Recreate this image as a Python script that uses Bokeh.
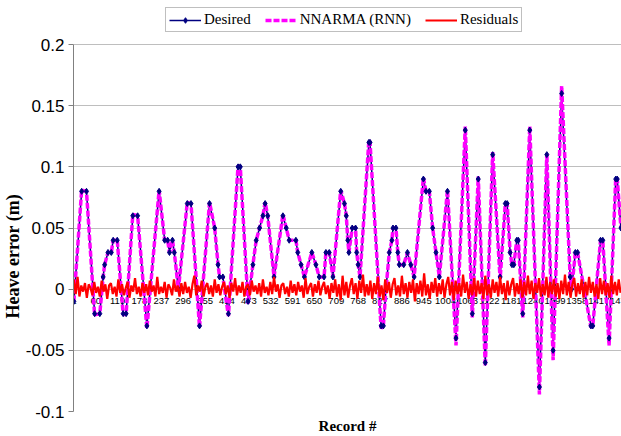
from bokeh.plotting import figure
from bokeh.models import Range1d, FixedTicker, NumeralTickFormatter, Legend, LegendItem, Title
from bokeh.core.properties import value
from bokeh.embed import file_html
from bokeh.resources import INLINE

# ---------------- data ----------------
record_ticks = [1, 60, 119, 178, 237, 296, 355, 414, 473, 532, 591, 650, 709,
                768, 827, 886, 945, 1004, 1063, 1122, 1181, 1240, 1299, 1358, 1417, 1476]
record_tick_labels = [str(t) for t in record_ticks]
y_ticks = [-0.1, -0.05, 0, 0.05, 0.1, 0.15, 0.2]

key_records = [1, 22, 35, 57, 71, 80, 84, 93, 102, 107, 118, 134, 142, 160, 173, 198,
               231, 246, 254, 259, 267, 272, 283, 307, 317, 340, 367, 381, 390, 394, 403,
               418, 444, 450, 471, 484, 493, 502, 511, 517, 524, 541, 565, 574, 582, 600,
               605, 614, 623, 643, 654, 663, 676, 681, 690, 700, 721, 731, 736, 740, 743,
               752, 761, 764, 768, 773, 797, 800, 830, 836, 843, 852, 859, 862, 870, 875,
               879, 891, 901, 910, 919, 944, 951, 960, 969, 978, 987, 1009, 1032, 1057,
               1076, 1092, 1111, 1131, 1151, 1165, 1170, 1178, 1183, 1188, 1196, 1200,
               1212, 1231, 1257, 1277, 1294, 1317, 1340, 1344, 1354, 1360, 1396, 1401,
               1422, 1428, 1445, 1463, 1467, 1477]

desired = [-0.01, 0.08, 0.08, -0.02, -0.02, 0.01, 0.02, 0.03, 0.03, 0.04, 0.04, -0.02, -0.02, 0.06, 0.06, -0.03,
           0.08, 0.04, 0.04, 0.03, 0.04, 0.03, 0.0, 0.07, 0.07, -0.03, 0.07, 0.05, 0.02, 0.01, 0.01,
           -0.02, 0.10, 0.10, -0.01, 0.02, 0.04, 0.05, 0.06, 0.07, 0.06, 0.01, 0.06, 0.05, 0.04, 0.04,
           0.03, 0.02, 0.01, 0.03, 0.02, 0.01, 0.01, 0.03, 0.03, 0.01, 0.08, 0.07, 0.06, 0.04, 0.03,
           0.05, 0.05, 0.03, 0.02, 0.01, 0.12, 0.12, -0.03, -0.03, 0.0, 0.03, 0.04, 0.05, 0.05, 0.03,
           0.02, 0.02, 0.03, 0.02, 0.01, 0.09, 0.08, 0.08, 0.05, 0.03, 0.01, 0.08, -0.04, 0.13,
           -0.02, 0.09, -0.06, 0.11, 0.01, 0.07, 0.07, 0.03, 0.02, 0.02, 0.04, 0.04,
           -0.02, 0.13, -0.08, 0.11, -0.05, 0.16, 0.01, 0.0, 0.03, 0.03, -0.03, -0.03,
           0.04, 0.04, -0.04, 0.09, 0.09, 0.05]

nnarma = [-0.01, 0.081, 0.08, -0.021, -0.02, 0.01, 0.02, 0.03, 0.03, 0.04, 0.04, -0.021, -0.02, 0.061, 0.06, -0.032,
          0.081, 0.04, 0.04, 0.03, 0.04, 0.03, 0.0, 0.071, 0.07, -0.031, 0.071, 0.05, 0.02, 0.01, 0.01,
          -0.022, 0.101, 0.10, -0.012, 0.02, 0.04, 0.05, 0.06, 0.071, 0.06, 0.01, 0.061, 0.05, 0.04, 0.04,
          0.03, 0.02, 0.01, 0.03, 0.02, 0.01, 0.01, 0.03, 0.03, 0.01, 0.081, 0.07, 0.06, 0.04, 0.03,
          0.05, 0.05, 0.03, 0.02, 0.01, 0.122, 0.12, -0.032, -0.03, 0.0, 0.03, 0.04, 0.05, 0.05, 0.03,
          0.02, 0.02, 0.03, 0.02, 0.01, 0.091, 0.08, 0.08, 0.05, 0.03, 0.01, 0.081, -0.046, 0.133,
          -0.023, 0.092, -0.063, 0.112, 0.008, 0.07, 0.07, 0.03, 0.02, 0.02, 0.04, 0.04,
          -0.023, 0.133, -0.086, 0.111, -0.058, 0.166, 0.01, 0.0, 0.03, 0.03, -0.031, -0.03,
          0.04, 0.04, -0.046, 0.091, 0.09, 0.05]

residuals = [
    0.008, -0.004, 0.010, -0.006, 0.003, -0.002, 0.005, -0.007, 0.004, 0.001, -0.005, 0.006, -0.003, 0.002, -0.006, 0.007, -0.002, 0.004, -0.008, 0.003,
    0.005, -0.004, 0.002, -0.006, 0.008, -0.003, 0.004, -0.005, 0.001, 0.006, -0.007, 0.003, -0.002, 0.009, -0.004, 0.002, -0.006, 0.005, -0.003, 0.004,
    -0.005, 0.007, -0.002, 0.003, -0.006, 0.010, -0.004, 0.002, -0.003, 0.006, -0.007, 0.004, 0.001, -0.005, 0.008, -0.002, 0.003, -0.006, 0.005, -0.004,
    0.006, -0.003, 0.002, -0.007, 0.004, 0.011, -0.005, 0.003, -0.002, 0.007, -0.006, 0.002, 0.005, -0.004, 0.003, -0.006, 0.008, -0.003, 0.004, -0.005,
    0.002, 0.006, -0.004, 0.003, -0.007, 0.005, -0.002, 0.009, -0.005, 0.003, -0.003, 0.006, -0.006, 0.002, 0.004, -0.005, 0.007, -0.002, 0.003, -0.004,
    0.005, -0.006, 0.008, -0.003, 0.002, -0.005, 0.006, -0.004, 0.010, -0.002, 0.004, -0.007, 0.003, 0.005, -0.004, 0.002, -0.006, 0.007, -0.003, 0.004,
    -0.005, 0.006, -0.002, 0.003, -0.007, 0.009, -0.004, 0.002, 0.005, -0.006, 0.004, -0.003, 0.007, -0.005, 0.002, 0.006, -0.004, 0.003, -0.008, 0.005,
    -0.003, 0.008, -0.006, 0.004, -0.009, 0.011, -0.005, 0.006, -0.007, 0.003, 0.009, -0.004, 0.005, -0.008, 0.007, -0.003, 0.012, -0.006, 0.004, -0.005,
    0.007, -0.008, 0.005, -0.004, 0.010, -0.006, 0.003, -0.009, 0.008, -0.003, 0.006, -0.007, 0.004, 0.009, -0.005, 0.003, -0.006, 0.011, -0.004, 0.005,
    -0.007, 0.006, -0.003, 0.008, -0.010, 0.005, -0.004, 0.007, -0.006, 0.013, -0.005, 0.004, -0.008, 0.006, -0.003, 0.009, -0.006, 0.005, -0.004, 0.008,
    -0.007, 0.004, 0.010, -0.005, 0.006, -0.009, 0.007, -0.004, 0.005, -0.006, 0.012, -0.003, 0.006, -0.008, 0.004, -0.005, 0.009, -0.006, 0.007, -0.004,
    0.005, -0.008, 0.011, -0.005, 0.004, -0.007, 0.008, -0.003, 0.006, -0.006, 0.010, -0.004, 0.005, -0.009, 0.007, -0.005, 0.004, 0.009, -0.006, 0.005,
    -0.004, 0.008, -0.007, 0.006, -0.005, 0.011, -0.004, 0.007, -0.008, 0.005, -0.003, 0.009, -0.006, 0.004, -0.005, 0.010, -0.007, 0.006, -0.004, 0.008,
    -0.006, 0.005, -0.008, 0.007, -0.004, 0.012, -0.005, 0.006, -0.007, 0.004, 0.009, -0.006, 0.005, -0.004, 0.008, -0.007, 0.006, -0.005, 0.010, -0.003,
    0.006, -0.006, 0.004, -0.008, 0.009, -0.004, 0.007, -0.005, 0.005, -0.007, 0.011, -0.004, 0.006, -0.005, 0.008, -0.003,
]
residual_records = list(range(1, 1 + 5 * len(residuals), 5))

# ---------------- figure ----------------
# the frame reaches the top of the figure so that the legend can sit inside it;
# the axis line itself stops at 0.2 through its bounds
p = figure(width=621, height=436, output_backend="svg", toolbar_location=None,
           x_range=Range1d(0, 1478.5), y_range=Range1d(-0.1, 0.236),
           min_border_left=71, min_border_right=0, min_border_top=0, min_border_bottom=25,
           background_fill_color="white", border_fill_color="white")
p.outline_line_color = None
p.xgrid.grid_line_color = None
p.ygrid.grid_line_color = "#BEBEBE"
p.ygrid.grid_line_width = 1

p.yaxis.ticker = FixedTicker(ticks=y_ticks)
p.yaxis.bounds = (-0.1, 0.2)
p.yaxis.formatter = NumeralTickFormatter(format="0.[00]")
p.yaxis.major_label_text_font = "Liberation Sans"
p.yaxis.major_label_text_font_size = "17px"
p.yaxis.major_label_text_color = "black"
p.yaxis.axis_line_color = "#808080"
p.yaxis.major_tick_line_color = "#808080"
p.yaxis.major_tick_out = 5
p.yaxis.major_tick_in = 0
p.yaxis.minor_tick_line_color = None
p.yaxis.major_label_standoff = 4

p.xaxis.ticker = FixedTicker(ticks=[])
p.xaxis.axis_line_color = None
p.xaxis.major_tick_line_color = None
p.xaxis.minor_tick_line_color = None
p.xaxis.major_tick_out = 0
p.xaxis.major_label_standoff = 0
p.xaxis.axis_label = "Record #"
p.xaxis.axis_label_text_font = "Liberation Serif"
p.xaxis.axis_label_text_font_style = "bold"
p.xaxis.axis_label_text_font_size = "15px"
p.xaxis.axis_label_text_color = "black"
p.xaxis.axis_label_standoff = 6

# category labels along the zero line
p.text(x=record_ticks, y=[0] * len(record_ticks), text=record_tick_labels,
       text_font=value("Liberation Sans"), text_font_size="9.5px", text_color="black",
       text_align="center", text_baseline="middle", y_offset=12)

d_line = p.line(key_records, desired, line_color="#000080", line_width=1.5)
n_line = p.line(key_records, nnarma, line_color="#FF00FF", line_width=3.5, line_dash="6 2")
d_mark = p.scatter(key_records, desired, marker="diamond", size=6,
                   fill_color="#000080", line_color="#000080")
r_line = p.line(residual_records, residuals, line_color="#FF0000", line_width=2.2)

legend = Legend(items=[
    LegendItem(label="Desired", renderers=[d_line, d_mark]),
    LegendItem(label="NNARMA (RNN)", renderers=[n_line]),
    LegendItem(label="Residuals", renderers=[r_line]),
], orientation="horizontal", location=(92, 379))
legend.label_text_font = "Liberation Serif"
legend.label_text_font_size = "15px"
legend.label_text_color = "black"
legend.glyph_width = 32
legend.glyph_height = 14
legend.label_height = 16
legend.label_standoff = 3
legend.spacing = 14
legend.padding = 3
legend.margin = 0
legend.border_line_color = "#808080"
legend.border_line_width = 1
legend.background_fill_color = "white"
legend.background_fill_alpha = 1
p.add_layout(legend, "center")

ytitle = Title(text="Heave error (m)", align="left", offset=93, standoff=0,
               text_font="Liberation Serif", text_font_style="bold", text_font_size="18px",
               text_color="black")
p.add_layout(ytitle, "left")

open("out.html", "w").write(file_html(p, INLINE))
